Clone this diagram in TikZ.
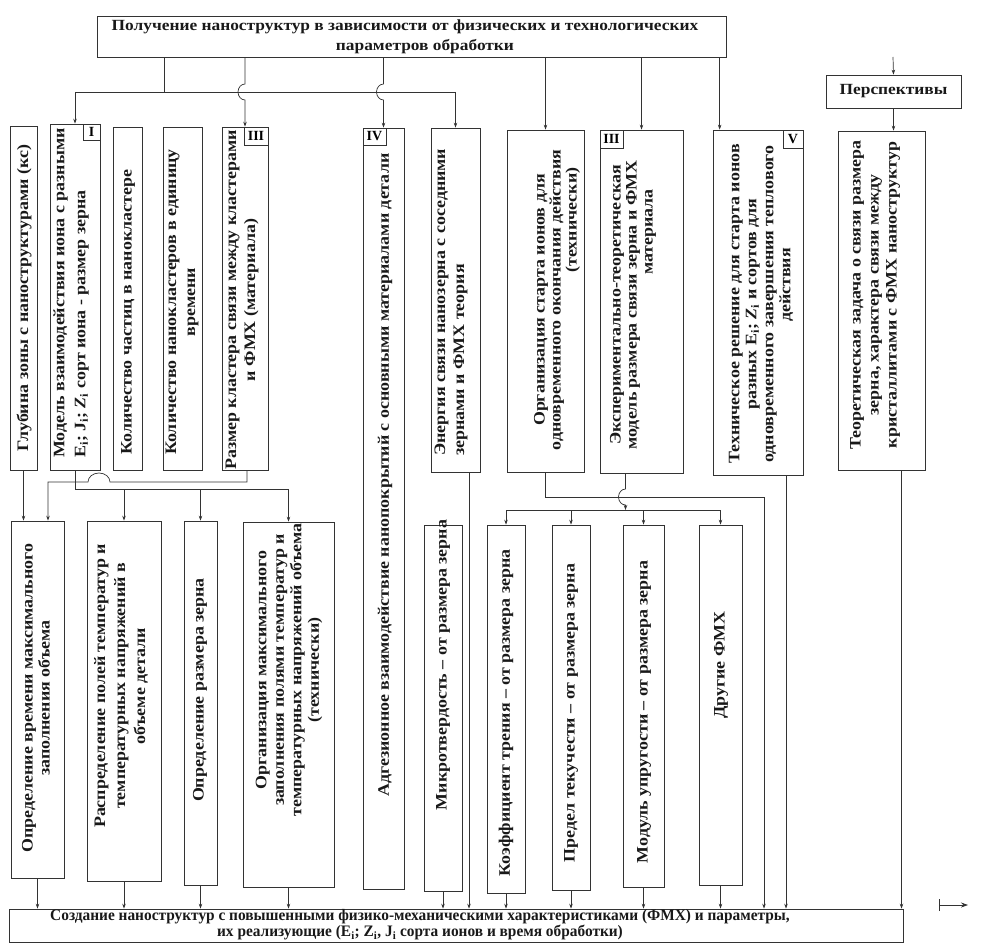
\documentclass[tikz,border=0pt]{standalone}
\usepackage{fontspec}
\setmainfont{Liberation Serif}
\newfontfamily\widefont[FakeStretch=1.12]{Liberation Serif}
\newfontfamily\condfont[FakeStretch=0.96]{Liberation Serif}
\usetikzlibrary{arrows.meta,fit,positioning}

\tikzset{
  cell/.style={draw=black!80, line width=0.7pt, inner sep=0pt},
  tag/.style={draw=black!80, line width=0.7pt, inner sep=0pt, fill=white,
    font=\fontsize{14}{14}\selectfont\bfseries},
  vtext/.style={rotate=90, inner sep=0pt, align=center, text=black!90,
    font=\widefont\fontsize{16}{19}\selectfont\bfseries},
  vlead/.style={font=\widefont\fontsize{16}{#1}\selectfont\bfseries},
  htext/.style={inner sep=0pt, align=center, text=black!90,
    font=\widefont\fontsize{15.5}{20}\selectfont\bfseries},
  wire/.style={draw=black!80, line width=0.7pt},
  arr/.style={wire, -{Stealth[length=5pt,width=3.5pt]}},
}

\begin{document}
\begin{tikzpicture}[x=1pt, y=-1pt]
\useasboundingbox (0,0) rectangle (992,944);

% Top box and prospects
\node[cell, fit={(97,16) (726,57)}] (top) {};
\node[htext] at (405,37) {Получение наноструктур в зависимости от физических и технологических\\\hspace*{40pt}параметров обработки};
\node[cell, fit={(826,75) (961,108)}] (persp) {};
\node[htext] at (persp) {Перспективы};

% Upper row of boxes
\foreach \n/\xa/\ya/\xb/\yb in {glub/10/126/37/470, model/50/124/100/470,
    kolch/113/127/142/470, kolkl/163/127/202/470, razm/222/127/268/470,
    adg/363/128/404/889, energ/431/128/480/472, org/507/130/584/472,
    exper/600/130/683/473, tech/713/130/803/475, theor/838/131/925/470}
  \node[cell, fit={(\xa,\ya) (\xb,\yb)}] (\n) {};

% Lower row of boxes
\foreach \n/\xa/\ya/\xb/\yb in {oprvr/11/521/64/878, rasp/87/521/161/881,
    oprrz/184/521/217/885, orgmx/243/522/334/887, mikro/424/525/462/891,
    koef/487/525/525/893, pred/552/525/590/890, modul/623/525/664/887,
    drug/699/525/742/885}
  \node[cell, fit={(\xa,\ya) (\xb,\yb)}] (\n) {};

% Result box
\node[cell, fit={(9,909) (903,942)}] (bottom) {};
\node[htext, font=\condfont\fontsize{16}{16}\selectfont\bfseries] at (420,925) {Создание наноструктур с повышенными физико-механическими характеристиками (ФМХ) и параметры,\\их реализующие (E\textsubscript{i}; Z\textsubscript{i}, J\textsubscript{i} сорта ионов и время обработки)};

% Roman tags
\node[tag, minimum width=17, minimum height=16, anchor=north east] at (model.north east) {I};
\node[tag, minimum width=24, minimum height=18, anchor=north east] at (razm.north east) {III};
\node[tag, minimum width=23, minimum height=17, anchor=north west] at (adg.north west) {IV};
\node[tag, minimum width=23, minimum height=18, anchor=north west] at (exper.north west) {III};
\node[tag, minimum width=20, minimum height=18, anchor=north east] at (tech.north east) {V};

% Texts of the upper row
\node[vtext] at (24,298) {Глубина зоны с наноструктурами (кс)};
\node[vtext, vlead=21, align=left, anchor=west] at (71,458) {Модель взаимодействия иона с разными\\E\textsubscript{i}; J\textsubscript{i}; \textit{Z}\textsubscript{i} сорт иона - размер зерна};
\node[vtext, anchor=west] at (128,455) {Количество частиц в нанокластере};
\node[vtext] at (182,302) {Количество нанокластеров в единицу\\времени};
\node[vtext] at (242,300) {Размер кластера связи между кластерами\\и ФМХ (материала)};
\node[vtext] at (385,475) {Адгезионное взаимодействие нанопокрытий с основными материалами детали};
\node[vtext, align=left, anchor=west] at (451,456) {Энергия связи нанозерна с соседними\\зернами и ФМХ теория};
\node[vtext, vlead=16] at (557,300) {Организация старта ионов для\\одновременного окончания действия\\\hspace*{160pt}(технически)};
\node[vtext, vlead=16] at (633,305) {Экспериментально-теоретическая\\модель размера связи зерна и ФМХ\\\hspace*{146pt}материала};
\node[vtext, vlead=17] at (761,304) {Техническое решение для старта ионов\\разных E\textsubscript{i}; \textit{Z}\textsubscript{i} и сортов для\\одновременного завершения теплового\\\hspace*{38pt}действия};
\node[vtext, vlead=18] at (875,295) {Теоретическая задача о связи размера\\зерна, характера связи между\\кристаллитами с ФМХ наноструктур};

% Texts of the lower row
\node[vtext, vlead=17] at (36,698) {Определение времени максимального\\заполнения объема};
\node[vtext, vlead=20] at (121,686) {Распределение полей температур и\\температурных напряжений в\\объеме детали};
\node[vtext] at (200,690) {Определение размера зерна};
\node[vtext, vlead=17.5] at (289,670) {Организация максимального\\заполнения полями температур и\\температурных напряжений объема\\(технически)};
\node[vtext] at (443,665) {Микротвердость – от размера зерна};
\node[vtext] at (506,713) {Коэффициент трения – от размера зерна};
\node[vtext] at (571,713) {Предел текучести – от размера зерна};
\node[vtext] at (644,712) {Модуль упругости – от размера зерна};
\node[vtext] at (721,665) {Другие ФМХ};

% Connectors from the top box
\coordinate (trunk) at (164,92);
\coordinate (persin) at (893,57);
\draw[wire] (trunk |- top.south) -- (trunk);
\draw[wire] (model.north |- trunk) -- (energ.north |- trunk);
\draw[arr] (model.north |- trunk) -- (model.north);
\draw[arr] (energ.north |- trunk) -- (energ.north);
\foreach \n in {razm,adg}
  \draw[arr] (\n.north |- top.south) -- ([yshift=8]\n.north |- trunk)
    arc[start angle=270, end angle=90, x radius=7, y radius=8] -- (\n.north);
\foreach \n in {org,exper}
  \draw[arr] (\n.north |- top.south) -- (\n.north);
\draw[arr] ([xshift=7]tech.north west |- top.south) -- ([xshift=7]tech.north west);
\draw[arr] (persin) -- (persp.north);
\draw[arr] (persp.south) -- (persp.south |- theor.north);

% Connectors between the rows
\coordinate (humpR) at (110,482);
\coordinate (leftin) at (48,482);
\coordinate (busM) at (0,489);
\coordinate (busO) at (0,497);
\coordinate (orgturn) at (764,497);
\coordinate (busD) at (0,510);
\draw[arr] (glub.south) -- (glub.south |- oprvr.north);
\draw[arr] ([xshift=2]razm.south) |- (humpR)
  arc[start angle=0, end angle=-180, x radius=11, y radius=9] -- (leftin) -- (leftin |- oprvr.north);
\draw[wire] (model.south) |- (orgmx.north |- busM);
\foreach \n in {rasp,oprrz,orgmx}
  \draw[arr] (\n.north |- busM) -- (\n.north);
\draw[arr] (org.south) |- (orgturn) -- (orgturn |- bottom.north);
\draw[arr] ([xshift=-16]exper.south) -- ([xshift=-16,yshift=8]exper.south |- busO)
  arc[start angle=270, end angle=90, x radius=7, y radius=8] -- ([xshift=-16]exper.south |- busD);
\draw[wire] (koef.north |- busD) -- (drug.north |- busD);
\foreach \n in {koef,pred,modul,drug}
  \draw[arr] (\n.north |- busD) -- (\n.north);

% Into the result box
\foreach \n in {oprvr,rasp,oprrz,orgmx,mikro,koef,pred,modul,drug}
  \draw[arr] (\n.south) -- (\n.south |- bottom.north);
\draw[arr] ([xshift=13.5]energ.south) -- ([xshift=13.5]energ.south |- bottom.north);
\draw[arr] ([xshift=28]tech.south) -- ([xshift=28]tech.south |- bottom.north);
\draw[arr] ([xshift=20]theor.south) -- ([xshift=20]theor.south |- bottom.north);

% Mark at the right
\coordinate (mapL) at (939,905);
\coordinate (mapR) at (968,905);
\draw[wire, {Bar[width=12pt]}-{Stealth[length=7pt,width=5pt]}] (mapL) -- (mapR);
\end{tikzpicture}
\end{document}
